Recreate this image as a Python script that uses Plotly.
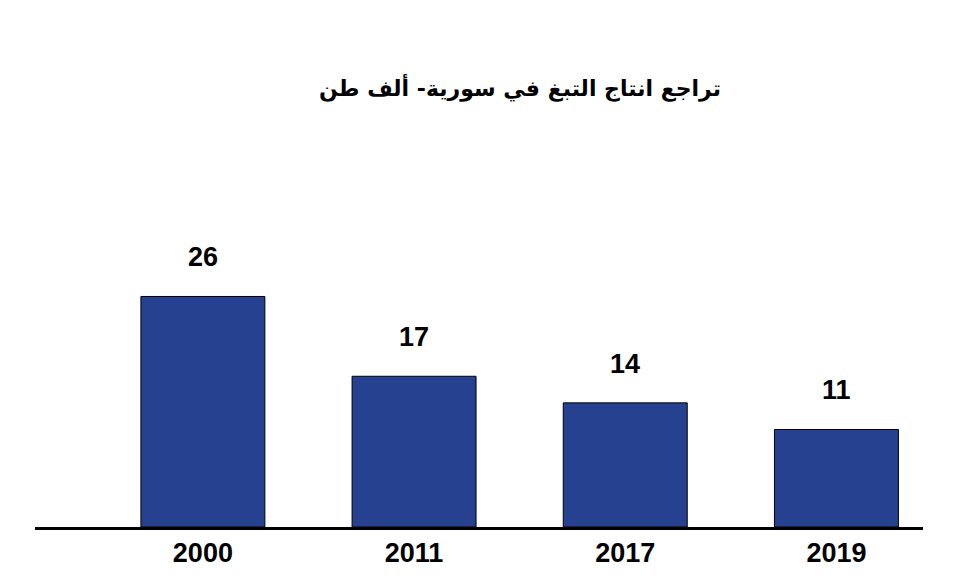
import plotly.graph_objects as go

years = ["2000", "2011", "2017", "2019"]
production = [26, 17, 14, 11]
title = "تراجع انتاج التبغ في سورية- ألف طن"

bar_color = "#26418f"


def make_figure():
    fig = go.Figure()
    fig.add_trace(go.Bar(
        x=years,
        y=production,
        width=0.587,
        marker=dict(color=bar_color, line=dict(color="black", width=1)),
        hoverinfo="x+y",
    ))

    # value labels floating above the bars (x by category index, the
    # year names would be read as numbers)
    for i, val in enumerate(production):
        fig.add_annotation(
            x=i, y=val, xref="x", yref="y", text=str(val),
            showarrow=False, yanchor="middle", yshift=39,
            font=dict(family="Liberation Sans", size=27, color="black", weight="bold"),
        )

    fig.update_xaxes(
        type="category",
        range=[-0.795, 3.41],
        showline=True, linecolor="black", linewidth=3,
        showgrid=False, zeroline=False, ticks="",
        tickfont=dict(family="Liberation Sans", size=27, color="black", weight="bold"),
    )
    fig.update_yaxes(
        range=[0, 30],
        visible=False, showgrid=False, zeroline=False,
    )
    # page body has an 8px margin, so margins are shifted by that
    fig.update_layout(
        width=956, height=582,
        margin=dict(l=27, r=41, t=253, b=63),
        paper_bgcolor="white", plot_bgcolor="white",
        showlegend=False,
        title=dict(
            text=title, x=512 / 956, y=1 - 80 / 582, xanchor="center", yanchor="middle",
            font=dict(family="DejaVu Sans", size=22, color="black", weight="bold"),
        ),
    )
    return fig


def main():
    fig = make_figure()
    fig.write_html("out.html")


if __name__ == "__main__":
    main()
